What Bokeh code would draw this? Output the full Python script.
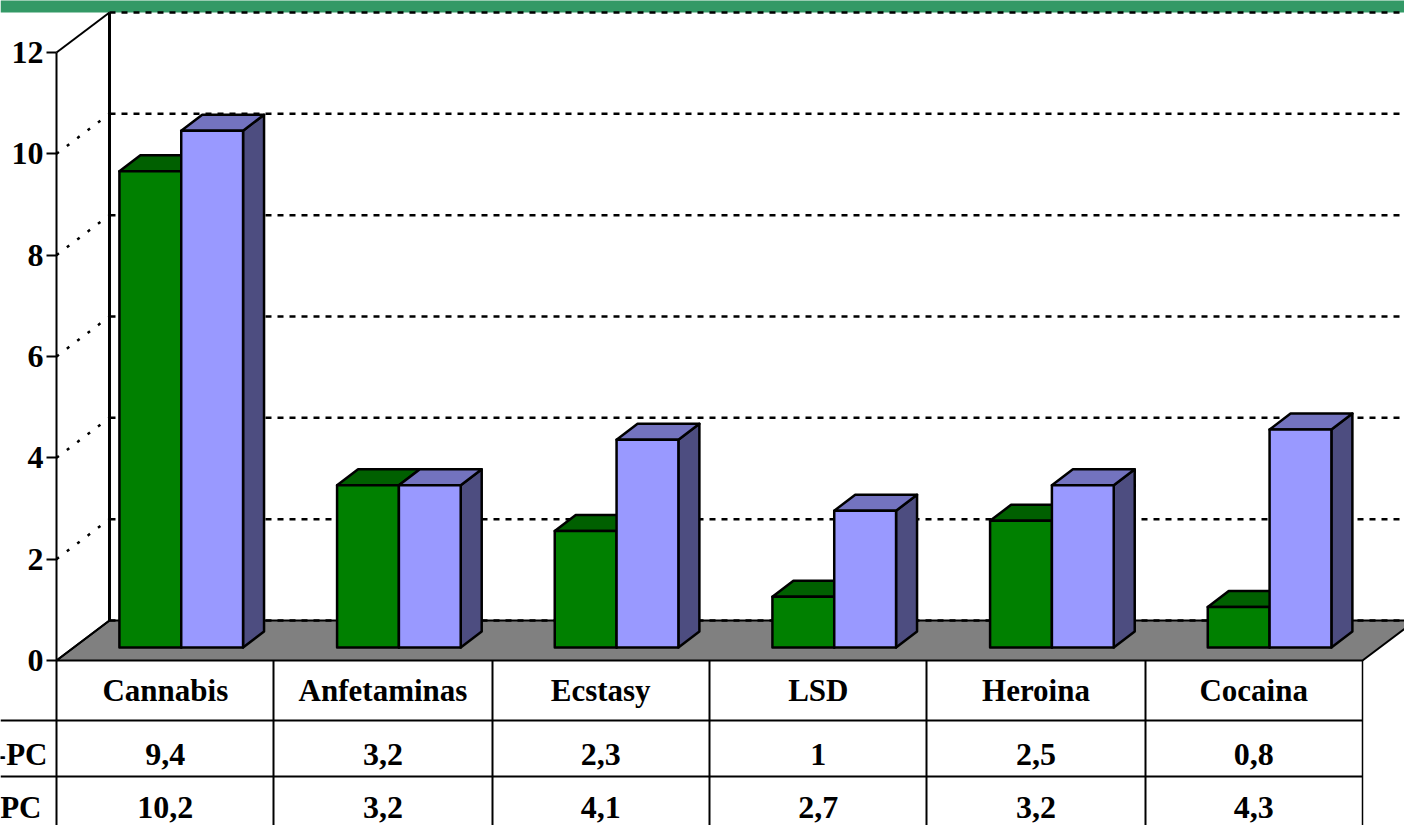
from bokeh.plotting import figure
from bokeh.models import Range1d, FixedTicker, GlobalInlineStyleSheet, ColumnDataSource
from bokeh.core.properties import value
from bokeh.embed import file_html
from bokeh.resources import INLINE

categories = ["Cannabis", "Anfetaminas", "Ecstasy", "LSD", "Heroina", "Cocaina"]
series_green = [9.4, 3.2, 2.3, 1, 2.5, 0.8]
series_blue = [10.2, 3.2, 4.1, 2.7, 3.2, 4.3]
row_labels = ["-PC", "PC"]
labels_green = ["9,4", "3,2", "2,3", "1", "2,5", "0,8"]
labels_blue = ["10,2", "3,2", "4,1", "2,7", "3,2", "4,3"]
y_ticks = [0, 2, 4, 6, 8, 10, 12]

W, H = 1404, 825
X0, Y0 = 56.0, 660.0          # pixel position of the axes origin
CW, VU = 217.67, 50.67        # pixels per category / per value unit
def X(px): return (px - X0) / CW
def Y(py): return (Y0 - py) / VU

p = figure(width=W, height=H, output_backend="svg", toolbar_location=None,
           x_range=Range1d(X(0), X(W)), y_range=Range1d(Y(H), Y(0)),
           min_border=0, outline_line_color=None, background_fill_color="white")
p.xaxis.visible = False
p.grid.visible = False
p.stylesheets = [GlobalInlineStyleSheet(css="html,body{margin:0;padding:0;overflow:hidden;background:#fff}")]

FONT = value("Liberation Serif")
DX, DY = 53 / CW, 40 / VU     # wall depth
BX, BY = 21 / CW, 16 / VU     # bar depth
FY = 13 / VU                  # bar base above front floor edge
n = len(categories)

# header band
p.quad(left=X(0), right=X(W), top=Y(-1), bottom=Y(12), fill_color="#339966", line_color=None)

# floor
p.patch([0, DX, n + DX, n], [0, DY, DY, 0], fill_color="#808080", line_color="black", line_width=2)

# walls
p.line([DX, DX], [DY, 12 + DY], line_color="black", line_width=3)
p.line([0, DX], [12, 12 + DY], line_color="black", line_width=2)
p.line([0, DX], [0, DY], line_color="black", line_width=2)

# grid lines on back wall, dotted on side wall
for t in y_ticks:
    p.line([DX, n + DX], [t + DY, t + DY], line_color="black", line_width=2.5, line_dash="6 6")
    if t not in (0, 12):
        p.line([0, DX], [t, t + DY], line_color="black", line_width=2.5, line_dash="3 10")

# bars
def faces(i, left, right, v):
    x0, x1 = i + left, i + right
    yb, yt = FY, FY + v
    front = ([x0, x1, x1, x0], [yb, yb, yt, yt])
    top = ([x0, x1, x1 + BX, x0 + BX], [yt, yt, yt + BY, yt + BY])
    side = ([x1, x1 + BX, x1 + BX, x1], [yb, yb + BY, yt + BY, yt])
    return front, top, side

for i in range(n):
    for v, l, r, cf, ct, cs in ((series_green[i], 0.289, 0.573, "#008000", "#006000", "#006000"),
                                (series_blue[i], 0.573, 0.857, "#9999FF", "#7373BF", "#4D4D80")):
        front, top, side = faces(i, l, r, v)
        p.patch(*side, fill_color=cs, line_color="black", line_width=2.5, line_join="round")
        p.patch(*top, fill_color=ct, line_color="black", line_width=2.5, line_join="round")
        p.patch(*front, fill_color=cf, line_color="black", line_width=2.5, line_join="round")

# data table
row_y = [Y(720), Y(776)]
for ry in row_y:
    p.line([X(0), n], [ry, ry], line_color="black", line_width=2)
for k, vx in enumerate([X(56), X(273), X(492), X(709), X(926), X(1145), X(1362)]):
    p.line([vx, vx], [0, Y(H)], line_color="black", line_width=2 if k < 6 else 1.5)

cx = [i + 0.5 for i in range(n)]
def table_row(texts, py, size):
    src = ColumnDataSource(dict(x=cx, y=[Y(py)] * n, t=texts))
    p.text("x", "y", text="t", source=src, text_font=FONT, text_font_style="bold",
           text_font_size=size, text_color="black", text_align="center", text_baseline="middle")
table_row(categories, 690, "31px")
table_row(labels_green, 754, "32px")
table_row(labels_blue, 807, "32px")
p.text([X(47)], [Y(754)], text=[row_labels[0]], text_font=FONT, text_font_style="bold", text_font_size="31px",
       text_align="right", text_baseline="middle", text_color="black")
p.text([X(41)], [Y(807)], text=[row_labels[1]], text_font=FONT, text_font_style="bold", text_font_size="31px",
       text_align="right", text_baseline="middle", text_color="black")

# value axis, fixed at the front corner
ax = p.yaxis[0]
ax.fixed_location = 0
ax.bounds = (0, 12)
ax.ticker = FixedTicker(ticks=y_ticks)
ax.axis_line_color = "black"
ax.axis_line_width = 2
ax.major_tick_line_color = "black"
ax.major_tick_line_width = 2
ax.major_tick_out = 10
ax.major_tick_in = 0
ax.minor_tick_out = 0
ax.minor_tick_in = 0
ax.major_label_standoff = 3
ax.major_label_text_font = "Liberation Serif"
ax.major_label_text_font_style = "bold"
ax.major_label_text_font_size = "32px"
ax.major_label_text_color = "black"

open("out.html", "w").write(file_html(p, INLINE))
